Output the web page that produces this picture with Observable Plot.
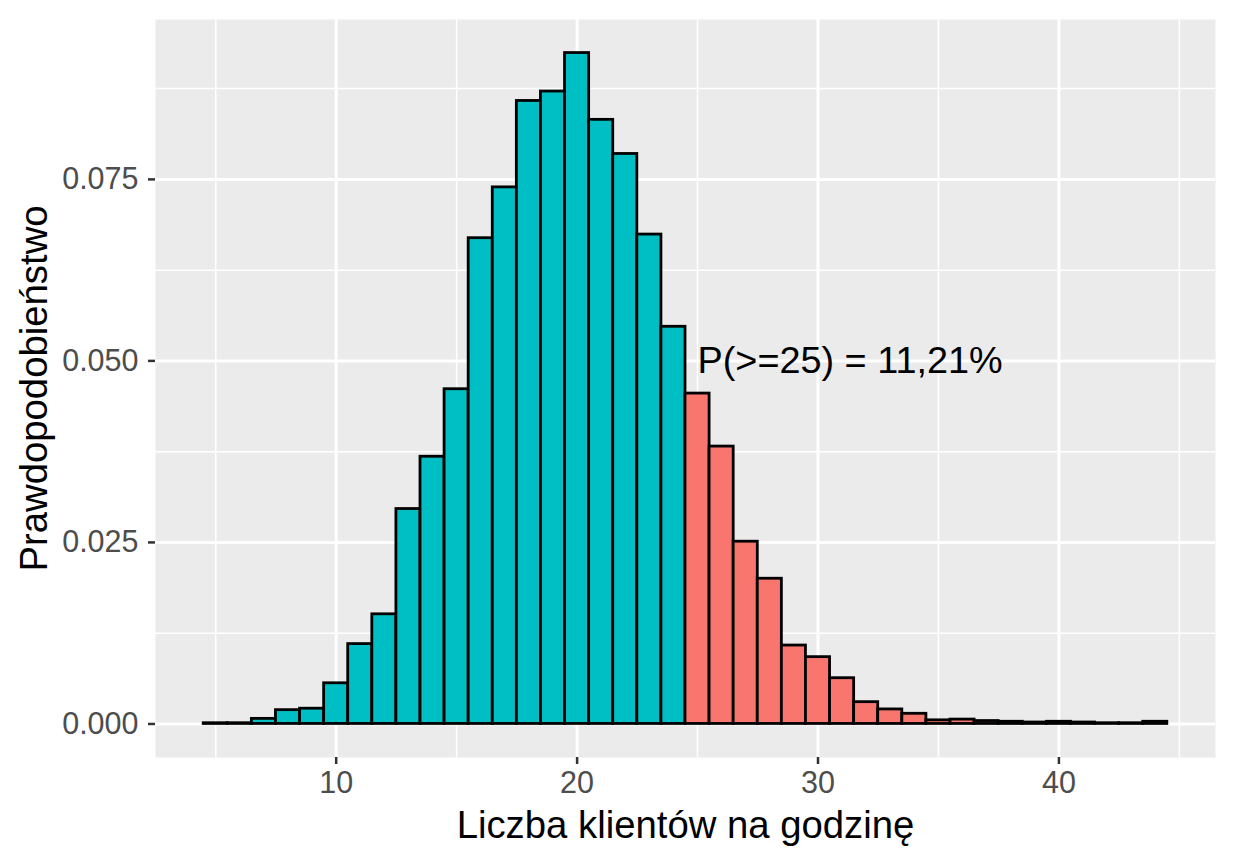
<!DOCTYPE html>
<html>
<head>
<meta charset="utf-8">
<script src="https://cdn.jsdelivr.net/npm/d3@7"></script>
<script src="https://cdn.jsdelivr.net/npm/@observablehq/plot@0.6"></script>
<style>
  body { margin: 0; background: #fff; }
  svg { display: block; }
</style>
</head>
<body>
<div id="chart"></div>
<script>
// Number of customers per hour (bin centers)
const counts = [5,6,7,8,9,10,11,12,13,14,15,16,17,18,19,20,21,22,23,24,25,26,27,28,29,30,31,32,33,34,35,36,37,38,39,40,41,42,43,44];
// Probability for each count
const probs = [0.0001,0.0001,0.0007,0.0019,0.0021,0.0056,0.0110,0.0151,0.0296,0.0368,
               0.0461,0.0669,0.0739,0.0858,0.0871,0.0924,0.0832,0.0785,0.0674,0.0547,
               0.0455,0.0382,0.0251,0.0200,0.0108,0.0092,0.0063,0.0030,0.0020,0.0014,
               0.0005,0.0006,0.0004,0.0003,0.0002,0.0003,0.0002,0.0001,0.0001,0.0003];
const threshold = 25;
const annotationText = "P(>=25) = 11,21%";

const xMajor = [10, 20, 30, 40];
const xMinor = [5, 15, 25, 35, 45];
const yMajor = [0, 0.025, 0.05, 0.075];
const yMinor = [0.0125, 0.0375, 0.0625, 0.0875];
const yTickLabels = ["0.000", "0.025", "0.050", "0.075"];

const data = counts.map((k, i) => ({k, p: probs[i], tail: k >= threshold}));

const font = "'Liberation Sans', Arial, Helvetica, sans-serif";

const chart = Plot.plot({
  width: 1234,
  height: 864,
  marginLeft: 155,
  marginRight: 19,
  marginTop: 19,
  marginBottom: 107,
  style: {fontFamily: font, background: "#ffffff"},
  x: {domain: [2.5, 46.5]},
  y: {domain: [-0.00462, 0.09702]},
  marks: [
    Plot.frame({fill: "#EBEBEB", stroke: null}),
    Plot.ruleY(yMinor, {stroke: "#ffffff", strokeWidth: 1.5}),
    Plot.ruleX(xMinor, {stroke: "#ffffff", strokeWidth: 1.5}),
    Plot.ruleY(yMajor, {stroke: "#ffffff", strokeWidth: 3}),
    Plot.ruleX(xMajor, {stroke: "#ffffff", strokeWidth: 3}),
    Plot.rectY(data, {
      x1: d => d.k - 0.5,
      x2: d => d.k + 0.5,
      y1: 0,
      y2: "p",
      fill: d => d.tail ? "#F8766D" : "#00BFC4",
      stroke: "#000000",
      strokeWidth: 2.8
    }),
    Plot.text([annotationText], {
      x: threshold, y: 0.05,
      text: d => d,
      textAnchor: "start",
      lineAnchor: "middle",
      fontSize: 37.8,
      fill: "#000000"
    }),
    Plot.axisX({
      ticks: xMajor,
      tickSize: 7,
      tickPadding: 7,
      tickFormat: d => String(d),
      fontSize: 30.5,
      stroke: "#333333",
      fill: "#4D4D4D",
      strokeWidth: 2.5,
      label: null
    }),
    Plot.axisY({
      ticks: yMajor,
      tickSize: 7,
      tickPadding: 10,
      tickFormat: (d, i) => yTickLabels[i],
      fontSize: 30.5,
      stroke: "#333333",
      fill: "#4D4D4D",
      strokeWidth: 2.5,
      label: null
    }),
    Plot.text(["Liczba klientów na godzinę"], {
      frameAnchor: "bottom",
      text: d => d,
      dy: 68,
      textAnchor: "middle",
      lineAnchor: "middle",
      fontSize: 38.3,
      fill: "#000000"
    }),
    Plot.text(["Prawdopodobieństwo"], {
      frameAnchor: "left",
      text: d => d,
      dx: -121,
      rotate: -90,
      textAnchor: "middle",
      lineAnchor: "middle",
      fontSize: 38.3,
      fill: "#000000"
    })
  ]
});
document.getElementById("chart").appendChild(chart);
</script>
</body>
</html>
